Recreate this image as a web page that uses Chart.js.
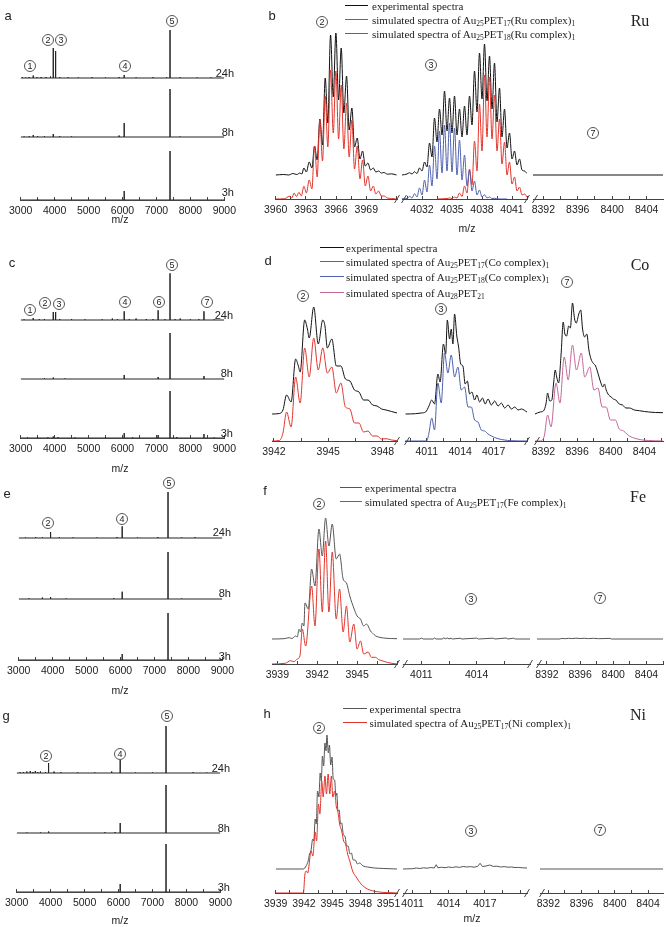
<!DOCTYPE html>
<html><head><meta charset="utf-8">
<script src="https://cdn.jsdelivr.net/npm/chart.js@4.4.0/dist/chart.umd.min.js"></script>
<style>
body{margin:0;background:#fff;}
#fig{position:relative;width:666px;height:927px;overflow:hidden;background:#fff;font-family:"Liberation Sans",Arial,sans-serif;color:#222;}
canvas{position:absolute;}
.t{position:absolute;white-space:nowrap;line-height:1;}
.lbl{font-size:11px;transform:translate(-100%,-50%);}
.mz{font-size:10.5px;transform:translate(-50%,-50%);}
.let{font-size:13px;transform:translate(-50%,-50%);}
.el{font-family:"Liberation Serif","Times New Roman",serif;font-size:16px;transform:translate(-50%,-50%);}
.c{position:absolute;width:12px;height:12px;box-sizing:border-box;border:1px solid #555;border-radius:50%;font-size:9px;line-height:10px;text-align:center;transform:translate(-50%,-50%);background:#fff;}
.lg{position:absolute;font-family:"Liberation Serif","Times New Roman",serif;font-size:11px;white-space:nowrap;transform:translateY(-50%);line-height:1;}
.lg sub{font-size:7.5px;vertical-align:-2px;line-height:0;}
.ln{position:absolute;height:0;border-top:1.3px solid;}
</style></head><body><div id="fig"></div>
<script>
// ---------------- DATA (m/z, intensity in arbitrary units) ----------------
// left panels: stick peaks [m/z, intensity]
const A_24h=[[3050,0.8],[3150,0.5],[3250,1],[3370,2.5],[3480,0.8],[3600,1],[3750,1],[3880,1.5],[3960,30],[4030,27],[4150,1],[4400,0.8],[4700,0.6],[5100,0.8],[5500,0.6],[5900,1],[6050,3],[6400,0.6],[6900,0.8],[7300,0.8],[7400,48],[7700,0.8],[8200,0.5],[8600,0.6]];
const A_8h=[[3100,0.5],[3250,0.8],[3370,2],[3500,0.8],[3700,0.8],[3960,3],[4150,0.8],[4500,0.6],[5900,1.5],[6050,14],[7400,48],[7700,0.5]];
const A_3h=[[3500,1],[4000,0.5],[6050,9],[7400,49]];
const C_24h=[[3100,0.6],[3370,2],[3550,0.8],[3700,1],[3960,8],[4030,8],[4150,1],[4500,0.8],[4900,0.6],[5400,0.6],[5700,1.5],[5850,0.8],[6050,8.7],[6200,0.8],[6400,1.5],[6700,1],[6900,0.8],[7050,9.7],[7250,0.8],[7400,46.7],[7550,0.8],[7700,1.5],[8000,0.6],[8250,0.8],[8400,8.7],[8700,0.6]];
const C_8h=[[3700,0.8],[3960,1.5],[4300,0.5],[6050,4],[7050,2],[7400,46],[8400,3]];
const C_3h=[[3200,0.6],[3500,0.8],[3800,0.6],[3960,1.5],[4100,0.8],[4600,0.5],[5500,0.5],[6050,5],[6300,0.6],[7050,3],[7400,47],[7600,1],[8400,4],[8700,0.5]];
const E_24h=[[3200,0.5],[3500,1],[3700,0.7],[3940,6],[4200,0.8],[4600,0.5],[5300,0.5],[5900,1],[6050,11.7],[6500,0.5],[7100,1],[7400,46],[7800,0.5],[8200,0.8]];
const E_8h=[[3300,0.6],[3700,1.5],[3940,2],[4400,0.5],[5800,1],[6050,7.3],[7400,47],[7800,0.5]];
const E_3h=[[6050,6],[7400,47]];
const G_24h=[[3100,0.8],[3200,1],[3300,1.5],[3400,2],[3480,1],[3550,2],[3620,1],[3700,1.5],[3850,1],[3940,10],[4100,1.5],[4300,0.8],[4800,0.6],[5300,0.6],[5800,1.5],[6050,13],[6500,0.5],[7000,0.6],[7400,47],[8200,0.8],[8600,0.5]];
const G_8h=[[3300,0.5],[3700,0.6],[3940,1.5],[5600,0.8],[5900,1],[6050,10],[7400,48]];
const G_3h=[[6050,8],[7400,48]];
const LEFT_TICKS=[3000,4000,5000,6000,7000,8000,9000];

// right panels: profile spectra [m/z, intensity]
const B1_exp=[[3960.0,0],[3960.8,0.5],[3961.3,0],[3961.7,1.5],[3962.1,0.5],[3962.4,2],[3962.6,1],[3962.8,7],[3963.05,3],[3963.33,13],[3963.6,7],[3963.86,29],[3964.12,15],[3964.39,56],[3964.65,30],[3964.92,97],[3965.18,52],[3965.45,140],[3965.72,78],[3965.98,142],[3966.25,75],[3966.51,127],[3966.77,62],[3967.04,99],[3967.3,45],[3967.57,67],[3967.83,28],[3968.1,37],[3968.37,16],[3968.63,24],[3968.9,9],[3969.16,12],[3969.43,5],[3969.69,7],[3969.95,3],[3970.22,4],[3970.5,2],[3970.75,2.5],[3971.1,0.8],[3971.5,1.2],[3972.0,0]];
const B1_sim17=[[3960,0],[3960.9,0.3],[3961.35,2.7],[3961.6,1],[3961.83,6],[3962.07,2.5],[3962.31,6.7],[3962.55,3],[3962.8,12.7],[3963.05,6],[3963.33,19],[3963.6,10],[3963.86,53],[3964.12,22],[3964.39,79],[3964.65,38],[3964.92,103],[3965.18,52],[3965.45,129],[3965.72,66],[3965.98,128],[3966.25,60],[3966.51,114],[3966.77,50],[3967.04,96],[3967.3,42],[3967.57,79],[3967.83,30],[3968.1,53],[3968.37,20],[3968.63,39],[3968.9,13],[3969.16,23],[3969.43,8],[3969.69,13],[3969.95,5],[3970.22,8],[3970.5,3],[3970.75,3],[3971.1,1],[3971.5,0.5],[3972,0]];
const B2_exp=[[4030.0,0],[4030.5,1],[4030.75,2.3],[4031.0,1],[4031.25,3.3],[4031.5,1.5],[4031.75,7],[4032.0,4],[4032.25,13],[4032.5,8],[4032.75,32],[4033.0,18],[4033.25,57],[4033.5,33],[4033.75,66],[4034.0,40],[4034.25,84],[4034.5,44],[4034.75,77],[4035.0,42],[4035.25,79],[4035.5,40],[4035.75,66],[4036.0,38],[4036.25,69],[4036.5,40],[4036.75,79],[4037.0,50],[4037.25,104],[4037.5,63],[4037.75,122],[4038.0,76],[4038.25,131],[4038.5,74],[4038.75,119],[4039.0,66],[4039.25,112],[4039.5,53],[4039.75,87],[4040.0,38],[4040.25,66],[4040.5,27],[4040.75,42],[4041.0,16],[4041.25,24],[4041.5,10],[4041.75,16],[4042.0,5],[4042.25,4],[4042.5,1.5]];
const B2_sim17=[[4033.5,0],[4034.5,0.5],[4034.75,1],[4035.0,0.5],[4035.25,2],[4035.5,1],[4035.75,6],[4036.0,2.5],[4036.25,13],[4036.5,6],[4036.75,30],[4037.0,14],[4037.25,58],[4037.5,28],[4037.75,95],[4038.0,48],[4038.25,124],[4038.5,62],[4038.75,122],[4039.0,60],[4039.25,104],[4039.5,48],[4039.75,80],[4040.0,35],[4040.25,57],[4040.5,24],[4040.75,37],[4041.0,15],[4041.25,22],[4041.5,8],[4041.75,12],[4042.0,4],[4042.25,5],[4042.5,2]];
const B2_sim18=[[4030.0,0],[4030.25,0.7],[4030.5,0.3],[4030.75,2.7],[4031.0,1],[4031.25,5.3],[4031.5,2],[4031.75,11],[4032.0,4],[4032.25,19],[4032.5,7],[4032.75,34],[4033.0,13],[4033.25,53],[4033.5,20],[4033.75,68],[4034.0,26],[4034.25,74],[4034.5,28],[4034.75,76],[4035.0,27],[4035.25,71],[4035.5,24],[4035.75,59],[4036.0,19],[4036.25,44],[4036.5,13],[4036.75,29],[4037.0,8],[4037.25,18],[4037.5,4],[4037.75,9],[4038.0,2],[4038.25,4.3],[4038.5,1],[4038.75,2],[4039.0,0.5],[4039.25,0.7],[4039.7,0],[4040.5,0]];
const B3_exp=[[8390.8,0],[8405.9,0]];

const D1_exp=[[3941.9,0],[3942.3,0.5],[3942.5,4],[3942.7,19],[3942.95,12],[3943.2,55],[3943.35,48],[3943.45,42],[3943.7,94],[3943.85,85],[3943.95,76],[3944.2,107],[3944.45,70],[3944.7,94],[3944.82,88],[3944.95,66],[3945.2,75],[3945.45,48],[3945.7,48],[3945.95,35],[3946.2,33],[3946.45,24],[3946.7,22],[3946.95,14],[3947.2,14],[3947.45,9],[3947.7,8],[3947.95,5],[3948.2,4],[3948.5,2.5],[3948.8,1]];
const D1_sim17=[[3941.9,0],[3942.3,0.5],[3942.5,8],[3942.7,29],[3942.95,14],[3943.2,64],[3943.45,38],[3943.7,93],[3943.95,64],[3944.2,103],[3944.45,71],[3944.7,93],[3944.95,68],[3945.2,74],[3945.45,48],[3945.7,58],[3945.95,34],[3946.2,32],[3946.45,18],[3946.7,18],[3946.95,9],[3947.2,10],[3947.45,5],[3947.7,5],[3947.95,2],[3948.2,2.3],[3948.5,1],[3948.8,0.3]];
const D2_exp=[[4009.1,0],[4010.0,0.3],[4010.5,1],[4010.9,2],[4011.2,8],[4011.45,14],[4011.7,10],[4012.0,40],[4012.2,32],[4012.5,70],[4012.7,60],[4012.85,94],[4013.05,75],[4013.2,85],[4013.35,70],[4013.5,100],[4013.7,78],[4013.85,68],[4014.05,50],[4014.25,48],[4014.45,30],[4014.65,33],[4014.85,20],[4015.05,22],[4015.3,14],[4015.5,19],[4015.75,12],[4016.0,16],[4016.25,10],[4016.5,15],[4016.8,9],[4017.1,13],[4017.4,8],[4017.7,11],[4018.0,6],[4018.3,9],[4018.6,5],[4018.9,7],[4019.2,4],[4019.5,5],[4020,2]];
const D2_sim18=[[4009.05,0],[4011.0,0],[4011.2,8],[4011.45,23],[4011.7,11],[4012.0,58],[4012.3,38],[4012.6,88],[4012.9,68],[4013.2,86],[4013.5,64],[4013.8,74],[4014.1,51],[4014.4,54],[4014.7,34],[4015.0,34],[4015.3,21],[4015.6,19],[4015.9,11],[4016.2,10],[4016.5,7],[4016.8,5],[4017.1,3.5],[4017.4,2.3],[4017.7,1.5],[4018.0,1],[4018.5,0.3],[4020,0]];
const D3_exp=[[8391.0,0],[8391.6,2],[8392.0,3],[8392.3,10],[8392.5,21],[8392.75,13],[8393.0,14],[8393.2,30],[8393.4,44],[8393.6,36],[8393.8,31],[8394.1,60],[8394.35,92],[8394.55,80],[8394.75,78],[8395.0,88],[8395.2,86],[8395.45,111],[8395.7,95],[8395.9,91],[8396.2,100],[8396.43,104],[8396.65,85],[8396.9,77],[8397.15,80],[8397.4,64],[8397.65,55],[8397.9,51],[8398.2,48],[8398.47,41],[8398.75,33],[8399.06,27],[8399.25,30],[8399.45,24],[8399.75,19],[8400.04,17],[8400.3,15],[8400.6,14],[8401.0,10],[8401.4,9],[8401.8,6],[8402.2,6],[8402.8,4],[8403.4,3.3],[8404.0,2.5],[8404.5,2],[8405.3,1.5],[8406.2,1.3]];
const D3_sim28=[[8391.0,0],[8391.6,0],[8392.1,5],[8392.5,26],[8392.9,14],[8393.5,58],[8393.96,38],[8394.47,84],[8394.94,61],[8395.45,96],[8395.92,71],[8396.5,88],[8396.9,64],[8397.5,74],[8398.0,51],[8398.47,53],[8398.98,34],[8399.45,34],[8399.96,21],[8400.55,21],[8401.0,12],[8401.53,10],[8401.9,7],[8402.2,5],[8402.6,3.5],[8403.0,2.3],[8403.6,1.2],[8404.5,0.5],[8406.2,0]];

const F1_exp=[[3938.6,0],[3939.5,0.3],[3939.9,1.3],[3940.1,0.5],[3940.38,3],[3940.5,2],[3940.63,9.7],[3940.75,7],[3940.88,16],[3941.0,13],[3941.08,36],[3941.33,30],[3941.58,70],[3941.83,53],[3942.13,110],[3942.38,83],[3942.63,121],[3942.88,93],[3943.13,115],[3943.43,80],[3943.68,85],[3943.95,60],[3944.2,56],[3944.45,43],[3944.75,31],[3945.0,23],[3945.25,20],[3945.5,13],[3945.7,15],[3945.83,13],[3946.0,8],[3946.13,6.3],[3946.4,3],[3946.6,2],[3947.0,1],[3947.5,0.5],[3948.0,0.3]];
const F1_sim17=[[3938.6,0],[3939.6,0.7],[3940.0,3.3],[3940.25,2.3],[3940.5,5],[3940.7,8],[3940.88,35],[3941.13,18],[3941.58,78],[3941.83,38],[3942.13,115],[3942.38,52],[3942.63,123],[3942.88,52],[3943.13,112],[3943.43,45],[3943.68,75],[3943.95,32],[3944.2,58],[3944.45,22],[3944.75,40],[3945.0,15],[3945.25,23],[3945.5,10],[3945.83,12],[3946.08,6.7],[3946.38,6.7],[3946.63,4.3],[3946.88,3.3],[3947.3,1.5],[3947.7,0.5],[3948.0,0]];
const F2_exp=[[4010.0,0],[4010.9,0],[4011.0,0.8],[4011.1,0],[4011.64,0],[4011.7,1],[4011.8,0],[4012.15,0],[4012.2,1.2],[4012.3,0.3],[4012.4,1],[4012.5,0.2],[4012.55,0.9],[4012.7,0],[4013.1,0.8],[4013.2,0],[4014.0,0.9],[4014.1,0],[4014.9,0.8],[4015.0,0],[4015.6,1],[4015.7,0],[4016.0,0.8],[4016.1,0],[4016.9,0]];
const F3_exp=[[8390.8,0],[8393.6,0],[8393.7,0.6],[8394.2,0.3],[8394.6,0.7],[8395,0.4],[8395.5,0.8],[8396,0.5],[8396.5,0.7],[8397,0.4],[8397.6,0.7],[8398.2,0.3],[8399.6,0.6],[8399.8,0],[8406.0,0]];

const H1_exp=[[3939.0,0],[3941.9,0],[3942.1,1],[3942.25,3.3],[3942.45,8],[3942.6,15],[3942.75,18],[3942.94,30],[3943.05,28],[3943.2,50],[3943.32,45],[3943.45,78],[3943.6,72],[3943.73,96],[3943.85,88],[3943.97,113],[3944.1,103],[3944.24,126],[3944.35,118],[3944.45,134],[3944.6,116],[3944.72,124],[3944.85,104],[3944.99,112],[3945.12,90],[3945.27,89],[3945.4,73],[3945.5,76],[3945.62,58],[3945.75,59],[3945.9,45],[3946.02,46],[3946.2,34],[3946.36,33],[3946.55,23],[3946.7,23],[3946.9,15],[3947.05,16],[3947.25,9],[3947.46,9],[3947.7,5],[3947.9,6],[3948.3,3],[3948.76,2],[3949.5,1],[3950.5,0.5],[3951.9,0]];
const H1_sim17=[[3939.0,0],[3941.95,0],[3942.1,18],[3942.25,22],[3942.4,20],[3942.77,42],[3942.95,37],[3943.2,61],[3943.35,52],[3943.55,89],[3943.7,79],[3943.9,112],[3944.05,96],[3944.24,117],[3944.4,99],[3944.58,119],[3944.75,99],[3944.92,117],[3945.08,96],[3945.27,102],[3945.45,86],[3945.6,82],[3945.8,69],[3946.02,62],[3946.22,52],[3946.43,49],[3946.65,39],[3946.88,32],[3947.05,26],[3947.22,21],[3947.56,16],[3948.08,9],[3948.76,4],[3949.79,1.3],[3951.9,0]];
const H2_exp=[[4010.2,0],[4011.0,0.3],[4011.3,1],[4011.6,0.5],[4011.9,1.2],[4012.2,0.8],[4012.5,1.5],[4012.8,1],[4012.96,4.3],[4013.1,1.2],[4013.4,1.8],[4013.7,1.3],[4014.0,2],[4014.3,1.5],[4014.6,2.2],[4014.9,1.6],[4015.2,2.5],[4015.5,2],[4015.8,2.4],[4016.1,1.8],[4016.4,2.6],[4016.6,5.7],[4016.8,2.5],[4017.1,3],[4017.4,4],[4017.7,2.6],[4018.0,2.8],[4018.3,2],[4018.6,2.4],[4018.9,1.8],[4019.2,2],[4019.5,1.5],[4019.8,1.6],[4020.1,1.2],[4020.5,1]];
const H3_exp=[[8391,0],[8405.8,0]];

// tick labels of the broken axes
const B_TICKS=[[3960,3963,3966,3969],[4032,4035,4038,4041],[8392,8396,8400,8404]];
const D_TICKS=[[3942,3945,3948],[4011,4014,4017],[8392,8396,8400,8404]];
const F_TICKS=[[3939,3942,3945],[4011,4014],[8392,8396,8400,8404]];
const H_TICKS=[[3939,3942,3945,3948,3951],[4011,4014,4017],[8392,8396,8400,8404]];

// ---------------- DRAWING ----------------
const fig=document.getElementById('fig');
const AX='#444', BLACK='#111', GREY='#555', RED='#e2352c', BLUE='#4f60ad', PINK='#c4679a';
const SANS='"Liberation Sans", Arial, sans-serif';
const PADX=16, PADT=4, AXH=24;

const breakPlugin={id:'breaks',afterDraw(chart,args,opts){
  const a=chart.chartArea, ctx=chart.ctx, y=a.bottom;
  ctx.save(); ctx.strokeStyle=AX; ctx.lineWidth=1;
  const sl=x=>{ctx.beginPath();ctx.moveTo(x-2.5,y+4);ctx.lineTo(x+2.5,y-4);ctx.stroke();};
  if(opts.right) sl(a.right);
  if(opts.left) sl(a.left+2);
  ctx.restore();
}};

function addChart(o){
  const L=Math.round(o.left), R=Math.round(o.right), B=Math.round(o.axisY);
  const W=R-L+2*PADX, H=o.areaH+PADT+AXH;
  const cv=document.createElement('canvas');
  cv.width=W; cv.height=H;
  cv.style.left=(L-PADX)+'px'; cv.style.top=(B-o.areaH-PADT)+'px';
  cv.style.width=W+'px'; cv.style.height=H+'px';
  fig.appendChild(cv);
  new Chart(cv,{type:'line',data:{datasets:o.datasets},options:{
    responsive:false,animation:false,devicePixelRatio:1,
    layout:{padding:{left:PADX,right:PADX,top:PADT,bottom:0}},
    plugins:{legend:{display:false},tooltip:{enabled:false},breaks:{left:!!o.breakL,right:!!o.breakR}},
    elements:{point:{radius:0}},
    scales:{
      x:{type:'linear',min:o.min,max:o.max,afterFit:s=>{s.height=AXH;},
        border:{display:true,color:AX,width:1},
        grid:{display:true,drawOnChartArea:false,drawTicks:true,tickLength:-3,color:AX,lineWidth:1},
        ticks:{stepSize:o.step,autoSkip:false,maxRotation:0,minRotation:0,includeBounds:false,padding:8,color:'#222',
          font:{family:SANS,size:10.5},
          callback:v=>{const m=o.labels.find(l=>Math.abs(l-v)<1e-6);return m===undefined?'':String(m);}}},
      y:{display:false,min:0,max:o.areaH}
    }},plugins:[breakPlugin]});
}

function sticks(peaks,xmin,xmax,off){
  const pts=[{x:xmin,y:off}];
  peaks.slice().sort((a,b)=>a[0]-b[0]).forEach(([m,h])=>{pts.push({x:m,y:off},{x:m,y:off+h},{x:m,y:off});});
  pts.push({x:xmax,y:off});
  return pts;
}
function prof(arr,off){return arr.map(([m,h])=>({x:m,y:h+off}));}
function ds(data,color,smooth){return {data,borderColor:color,borderWidth:1,pointRadius:0,fill:false,
  tension:0,cubicInterpolationMode:smooth?'monotone':'default'};}

// left panels
function leftPanel(p){
  addChart({left:p.left,right:p.right,axisY:p.axisY,areaH:190,min:3000,max:9000,step:500,labels:LEFT_TICKS,
    datasets:[ds(sticks(p.t3,3000,9000,0),'#222',false),ds(sticks(p.t8,3000,9000,p.o8),'#222',false),ds(sticks(p.t24,3000,9000,p.o24),'#222',false)]});
}
leftPanel({left:17.3,right:228.3,axisY:200,t3:A_3h,t8:A_8h,t24:A_24h,o8:63,o24:122});
leftPanel({left:17.3,right:228.3,axisY:438,t3:C_3h,t8:C_8h,t24:C_24h,o8:59,o24:118});
leftPanel({left:15,right:226,axisY:660,t3:E_3h,t8:E_8h,t24:E_24h,o8:61,o24:122});
leftPanel({left:12.7,right:224,axisY:892,t3:G_3h,t8:G_8h,t24:G_24h,o8:59,o24:119});

// right panels (broken axis: three segments)
function rightPanel(p){
  p.segs.forEach((s,i)=>{
    addChart({left:s[0],right:s[1],min:s[2],max:s[3],axisY:p.axisY,areaH:p.areaH,step:s[4],labels:p.ticks[i],
      breakL:i>0,breakR:i<2,datasets:p.sets[i]});
  });
}
rightPanel({axisY:199.3,areaH:190,ticks:B_TICKS,
  segs:[[271.7,396.7,3960,3972.05,1.5],[401.7,526.7,4030.0,4042.5,1.5],[533.3,663.3,8390.8,8405.9,2]],
  sets:[[ds(prof(B1_sim17,0),RED,true),ds(prof(B1_exp,24),BLACK,true)],
        [ds(prof(B2_sim18,0),BLUE,true),ds(prof(B2_sim17,0),RED,true),ds(prof(B2_exp,24),BLACK,true)],
        [ds(prof(B3_exp,24),BLACK,false)]]});
rightPanel({axisY:440.5,areaH:175,ticks:D_TICKS,
  segs:[[270,396.7,3941.9,3948.8,1.5],[405,526.7,4009.05,4020,1.5],[535,663.3,8391.0,8406.2,2]],
  sets:[[ds(prof(D1_sim17,0),RED,true),ds(prof(D1_exp,27),BLACK,true)],
        [ds(prof(D2_sim18,0),BLUE,true),ds(prof(D2_exp,27),BLACK,true)],
        [ds(prof(D3_sim28,0),PINK,true),ds(prof(D3_exp,27),BLACK,true)]]});
rightPanel({axisY:663.5,areaH:175,ticks:F_TICKS,
  segs:[[271.7,396.7,3938.6,3948.0,1.5],[403.3,530,4010.0,4016.9,1.5],[536.7,663.3,8390.8,8406.0,2]],
  sets:[[ds(prof(F1_sim17,0),RED,true),ds(prof(F1_exp,25),GREY,true)],
        [ds(prof(F2_exp,25),GREY,false)],
        [ds(prof(F3_exp,25),GREY,false)]]});
rightPanel({axisY:893,areaH:180,ticks:H_TICKS,
  segs:[[271.7,396.7,3939.0,3951.9,1.5],[403.3,526.7,4010.2,4020.5,1.5],[540,663.3,8391.0,8405.8,2]],
  sets:[[ds(prof(H1_sim17,0),RED,true),ds(prof(H1_exp,24),GREY,true)],
        [ds(prof(H2_exp,24),GREY,false)],
        [ds(prof(H3_exp,24),GREY,false)]]});

// ---------------- TEXT ----------------
function txt(cls,x,y,html){const d=document.createElement('div');d.className='t '+cls;d.style.left=x+'px';d.style.top=y+'px';d.innerHTML=html;fig.appendChild(d);}
function circ(x,y,n){const d=document.createElement('div');d.className='c';d.style.left=x+'px';d.style.top=y+'px';d.textContent=n;fig.appendChild(d);}
function legend(x1,x2,tx,rows){rows.forEach(r=>{
  const l=document.createElement('div');l.className='ln';l.style.left=x1+'px';l.style.width=(x2-x1)+'px';l.style.top=(r[0]-0.6)+'px';l.style.borderColor=r[1];fig.appendChild(l);
  const t=document.createElement('div');t.className='lg';t.style.left=tx+'px';t.style.top=r[0]+'px';t.innerHTML=r[2];fig.appendChild(t);});}

[['a',8,15],['b',272,15],['c',12,262],['d',268,260],['e',7,493],['f',265,490],['g',6,715],['h',267,713]].forEach(p=>txt('let',p[1],p[2],p[0]));
[['Ru',640,21],['Co',640,265],['Fe',638,497],['Ni',638,715]].forEach(p=>txt('el',p[1],p[2],p[0]));
[[120,219],[467,228],[120,468],[120,690],[120,920],[472,918]].forEach(p=>txt('mz',p[0],p[1],'m/z'));
[[234,72.7,131.7,191.7],[233,315,373,433],[231,532,593,656],[230,768,828,887]].forEach(p=>{
  txt('lbl',p[0],p[1],'24h');txt('lbl',p[0],p[2],'8h');txt('lbl',p[0],p[3],'3h');});
[[30,66,'1'],[48,40,'2'],[61,40,'3'],[125,66,'4'],[172,21,'5'],
 [322,22,'2'],[431,65,'3'],[593,133,'7'],
 [30,310,'1'],[45,303,'2'],[59,304,'3'],[125,302,'4'],[159,302,'6'],[207,302,'7'],[172,265,'5'],
 [303,296,'2'],[441,309,'3'],[567,282,'7'],
 [48,523,'2'],[122,519,'4'],[169,483,'5'],
 [319,504,'2'],[471,599,'3'],[600,598,'7'],
 [46,756,'2'],[120,754,'4'],[167,716,'5'],
 [319,728,'2'],[471,831,'3'],[600,830,'7']].forEach(p=>circ(p[0],p[1],p[2]));

const S=(a)=>'<sub>'+a+'</sub>';
legend(345,368,372,[[6,BLACK,'experimental spectra'],
  [20,RED,'simulated spectra of Au'+S(25)+'PET'+S(17)+'(Ru complex)'+S(1)],
  [34,BLUE,'simulated spectra of Au'+S(25)+'PET'+S(18)+'(Ru complex)'+S(1)]]);
legend(320,344,346,[[248,BLACK,'experimental spectra'],
  [261.5,RED,'simulated spectra of Au'+S(25)+'PET'+S(17)+'(Co complex)'+S(1)],
  [277,BLUE,'simulated spectra of Au'+S(25)+'PET'+S(18)+'(Co complex)'+S(1)],
  [293,PINK,'simulated spectra of Au'+S(28)+'PET'+S(21)]]);
legend(340,362,365,[[488,GREY,'experimental spectra'],
  [502,RED,'simulated spectra of Au'+S(25)+'PET'+S(17)+'(Fe complex)'+S(1)]]);
legend(343,367,369.5,[[709,GREY,'experimental spectra'],
  [723,RED,'simulated spectra of Au'+S(25)+'PET'+S(17)+'(Ni complex)'+S(1)]]);
</script></body></html>
